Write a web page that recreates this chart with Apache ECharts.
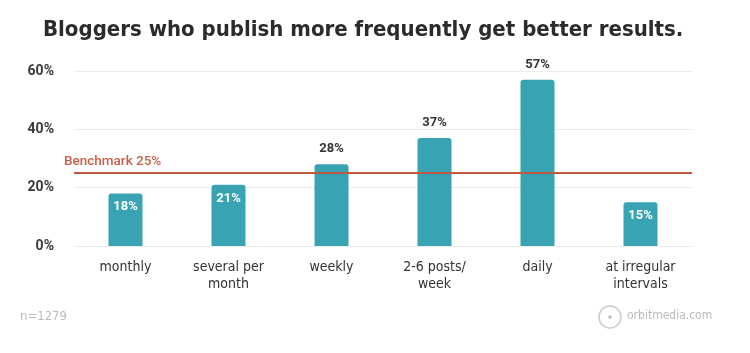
<!DOCTYPE html>
<html>
  <head>
    <meta charset="utf-8" />
    <title>Blogging frequency</title>
    <script src="https://cdn.jsdelivr.net/npm/echarts@6/dist/echarts.min.js"></script>
    <style>
      body { margin: 0; background: #fff; }
      #main { width: 750px; height: 353px; }
    </style>
  </head>
<body>
  <div id="main"></div>
  <script type="text/javascript">
var categories = ['monthly', 'several per\nmonth', 'weekly', '2-6 posts/\nweek', 'daily', 'at irregular\nintervals'];
var values = [18, 21, 28, 37, 57, 15];
var insideLabel = [true, true, false, false, false, true];
var benchmark = 25;
var yTicks = [0, 20, 40, 60];

var narrow = '"Liberation Sans Narrow", "DejaVu Sans Condensed", sans-serif';
var teal = '#37a3b3';

var chart = echarts.init(document.getElementById('main'));

var barData = values.map(function (v, i) {
  return {
    value: v,
    label: insideLabel[i]
      ? { position: 'insideTop', distance: 7, color: '#fff' }
      : { position: 'top', distance: 9, color: '#333' }
  };
});

var option = {
  animation: false,
  title: {
    text: 'Bloggers who publish more frequently get better results.',
    left: 38,
    top: 14,
    textStyle: { fontFamily: narrow, fontWeight: 'bold', fontSize: 22, color: '#2b2b2b' }
  },
  grid: { left: 74, right: 58, top: 71, bottom: 107 },
  xAxis: {
    type: 'category',
    data: categories,
    axisLine: { show: false },
    axisTick: { show: false },
    axisLabel: { fontFamily: narrow, fontSize: 14, color: '#333', margin: 13, lineHeight: 17 }
  },
  yAxis: {
    type: 'value',
    min: yTicks[0],
    max: yTicks[yTicks.length - 1],
    interval: 20,
    axisLabel: {
      formatter: '{value}%', fontFamily: 'Roboto, sans-serif', fontWeight: 'bold',
      fontSize: 14, color: '#3a3a3a', margin: 20
    },
    splitLine: { lineStyle: { color: '#ececec', width: 1 } }
  },
  series: [{
    type: 'bar',
    data: barData,
    barWidth: 34,
    itemStyle: { color: teal, borderRadius: [3, 3, 0, 0] },
    label: {
      show: true,
      formatter: '{c}%',
      fontFamily: 'Roboto, sans-serif',
      fontWeight: 'bold',
      fontSize: 13
    },
    markLine: {
      symbol: 'none',
      silent: true,
      lineStyle: { color: '#c0583f', width: 2, type: 'solid' },
      label: {
        position: 'insideStartTop',
        formatter: 'Benchmark ' + benchmark + '%',
        color: '#c8604a',
        fontFamily: 'Roboto, sans-serif',
        fontWeight: 500,
        fontSize: 13.5,
        distance: [-10, 4]
      },
      data: [{ yAxis: benchmark }]
    }
  }],
  graphic: [
    {
      type: 'text', left: 20, top: 310,
      style: { text: 'n=1279', fill: '#bbb', font: '13px ' + narrow }
    },
    {
      type: 'circle', shape: { cx: 610, cy: 317, r: 11 },
      style: { fill: 'none', stroke: '#ccc', lineWidth: 1.5 }
    },
    {
      type: 'circle', shape: { cx: 610, cy: 317, r: 1.8 },
      style: { fill: '#bbb' }
    },
    {
      type: 'text', left: 627, top: 310,
      style: { text: 'orbitmedia.com', fill: '#bbb', font: '12px ' + narrow }
    }
  ]
};

chart.setOption(option);
  </script>
</body>
</html>
